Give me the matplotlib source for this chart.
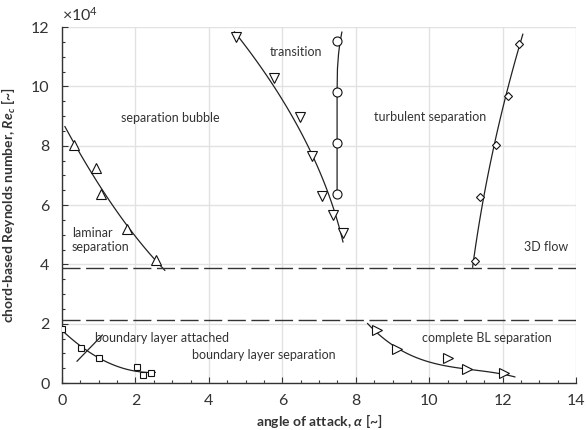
import numpy as np
import matplotlib
matplotlib.use('Agg')
import matplotlib.pyplot as plt
from matplotlib.ticker import MultipleLocator

plt.rcParams['font.family'] = ['Lato', 'DejaVu Sans']
plt.rcParams['mathtext.fontset'] = 'custom'
plt.rcParams['mathtext.it'] = 'Lato:italic:bold'
plt.rcParams['mathtext.rm'] = 'Lato'
plt.rcParams['mathtext.bf'] = 'Lato:bold'

# data (Re in units of 1e4)
lam_aoa = [0.32, 0.92, 1.05, 1.78, 2.57]
lam_re = [8.02, 7.25, 6.37, 5.19, 4.15]

trans_l_aoa = [4.73, 5.76, 6.49, 6.81, 7.08, 7.38, 7.65]
trans_l_re = [11.66, 10.28, 8.96, 7.65, 6.30, 5.66, 5.05]
# trend line of the left transition branch
trans_l_curve_aoa = [4.59, 5.76, 6.03, 6.34, 6.81, 7.15, 7.42, 7.77]
trans_l_curve_re = [11.84, 10.27, 9.71, 8.70, 7.63, 6.34, 5.55, 4.76]

trans_r_aoa = [7.49, 7.49, 7.49, 7.49]
trans_r_re = [11.53, 9.81, 8.09, 6.37]
trans_r_curve_aoa = [7.49, 7.49, 7.50, 7.53, 7.57, 7.62]
trans_r_curve_re = [6.37, 9.81, 10.6, 11.1, 11.5, 11.83]

turb_aoa = [12.43, 12.14, 11.81, 11.38, 11.24]
turb_re = [11.42, 9.68, 8.01, 6.27, 4.11]

att_aoa = [0.0, 0.51, 1.02, 2.05, 2.20, 2.43]
att_re = [1.82, 1.18, 0.84, 0.54, 0.27, 0.34]
att_cross_aoa = [0.41, 1.10]
att_cross_re = [0.74, 1.62]

cbl_aoa = [8.59, 9.11, 10.51, 11.03, 12.03]
cbl_re = [1.79, 1.15, 0.84, 0.47, 0.34]
cbl_curve_aoa = [8.32, 9.14, 9.99, 11.03, 12.33]
cbl_curve_re = [2.01, 1.17, 0.72, 0.47, 0.21]

limits_re = [3.88, 2.12]


def fit_curve(x, y, lo, hi, deg=2, inverse=False):
    '''
    polynomial trend line, evaluated between lo and hi
    (inverse=True fits x as function of y)
    '''
    if inverse:
        p = np.polyfit(y, x, deg)
        yy = np.linspace(lo, hi, 100)
        return np.polyval(p, yy), yy
    p = np.polyfit(x, y, deg)
    xx = np.linspace(lo, hi, 100)
    return xx, np.polyval(p, xx)


fig = plt.figure(figsize=(5.87, 4.30), dpi=100)
ax = fig.add_axes([0.1056, 0.109, 0.8760, 0.828])

lc = '#222222'
mk = dict(ls='none', mfc='white', mec='#111111', mew=0.8, zorder=4)

x, y = fit_curve(lam_aoa, lam_re, 0.08, 2.8)
ax.plot(x, y, color=lc, lw=0.9)
ax.plot(lam_aoa, lam_re, marker='^', ms=6.5, **mk)

x, y = fit_curve(trans_l_curve_aoa, trans_l_curve_re, 4.76, 11.84, deg=2, inverse=True)
ax.plot(x, y, color=lc, lw=0.9)
ax.plot(trans_l_aoa, trans_l_re, marker='v', ms=6.5, **mk)

ax.plot(trans_r_curve_aoa, trans_r_curve_re, color=lc, lw=0.9)
ax.plot(trans_r_aoa, trans_r_re, marker='o', ms=6.5, **mk)

x, y = fit_curve(turb_aoa, turb_re, 3.91, 11.76, inverse=True)
ax.plot(x, y, color=lc, lw=0.9)
ax.plot(turb_aoa, turb_re, marker='D', ms=4.5, **mk)

x, y = fit_curve(att_aoa, att_re, 0.0, 2.54)
ax.plot(x, y, color=lc, lw=0.9)
ax.plot(att_cross_aoa, att_cross_re, color=lc, lw=0.9)
ax.plot(att_aoa, att_re, marker='s', ms=4, **mk)

x, y = fit_curve(cbl_curve_aoa, cbl_curve_re, 8.32, 12.33, deg=3)
ax.plot(x, y, color=lc, lw=0.9)
ax.plot(cbl_aoa, cbl_re, marker='>', ms=6.5, **mk)

for r in limits_re:
    ax.axhline(r, color='#333333', lw=1.0, dashes=(13, 4), zorder=3)

tk = dict(fontsize=9, color='#333333')
ax.text(2.96, 8.93, 'separation bubble', ha='center', va='center', **tk)
ax.text(6.38, 11.16, 'transition', ha='center', va='center', **tk)
ax.text(10.03, 8.96, 'turbulent separation', ha='center', va='center', **tk)
ax.text(0.27, 4.82, 'laminar\nseparation', ha='left', va='center', linespacing=1.15, **tk)
ax.text(12.57, 4.58, '3D flow', ha='left', va='center', **tk)
ax.text(0.91, 1.52, 'boundary layer attached', ha='left', va='center', **tk)
ax.text(3.53, 0.94, 'boundary layer separation', ha='left', va='center', **tk)
ax.text(9.81, 1.52, 'complete BL separation', ha='left', va='center', **tk)

ax.set_xlim(0, 14)
ax.set_ylim(0, 12)
ax.xaxis.set_major_locator(MultipleLocator(2))
ax.xaxis.set_minor_locator(MultipleLocator(0.5))
ax.yaxis.set_major_locator(MultipleLocator(2))
ax.yaxis.set_minor_locator(MultipleLocator(0.5))
ax.tick_params(which='both', direction='in', colors='#333333', labelsize=11.5, width=0.8)
ax.tick_params(which='major', length=4)
ax.tick_params(which='minor', length=2.5)
ax.tick_params(axis='x', pad=8)
ax.tick_params(axis='y', pad=9)
ax.grid(True, which='major', color='#e2e2e2', lw=1.0, zorder=0)
ax.set_axisbelow(True)
for s in ['top', 'right']:
    ax.spines[s].set_visible(False)
for s in ['left', 'bottom']:
    ax.spines[s].set_color('#333333')
    ax.spines[s].set_linewidth(1.0)

ax.set_xlabel(r'angle of attack, $\mathit{\alpha}$ [~]', fontsize=10, fontweight='bold', color='#333333', labelpad=3)
ax.set_ylabel(r'chord-based Reynolds number, $\mathit{Re}_{c}$ [~]', fontsize=10, fontweight='bold', color='#333333', labelpad=9)
ax.text(0.0, 12.12, r'$\times10^4$', fontsize=11.5, color='#333333', ha='left', va='bottom')

fig.savefig('out.png', dpi=100)
